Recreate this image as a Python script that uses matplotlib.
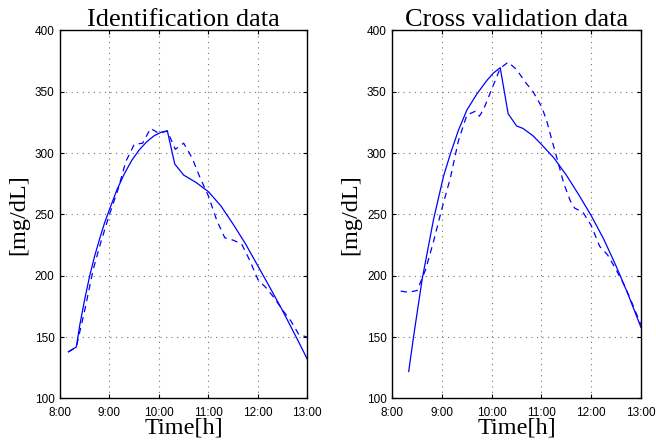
import numpy as np
import matplotlib.pyplot as plt

# datos (hora decimal, mg/dL)
xticks_h = [8, 9, 10, 11, 12, 13]
xtick_labels = ['8:00', '9:00', '10:00', '11:00', '12:00', '13:00']
yticks = [100, 150, 200, 250, 300, 350, 400]

# identificacion
id_t_model = [8.17, 8.33, 8.40, 8.50, 8.60, 8.70, 8.80, 8.90, 9.00, 9.15, 9.30, 9.45,
              9.60, 9.75, 9.90, 10.05, 10.17, 10.32, 10.50, 10.75, 11.0, 11.25,
              11.5, 11.75, 12.0, 12.25, 12.5, 12.75, 13.0]
id_model = [138, 142, 160, 181, 200, 216, 230, 243, 254, 270, 283, 294,
            302.5, 309, 314, 317, 318, 291, 282, 276, 268.5, 257,
            242, 226, 208, 190, 171.5, 152, 132]

id_t_meas = [8.17, 8.33, 8.5, 8.67, 8.83, 9.0, 9.17, 9.33, 9.5, 9.67, 9.83, 10.0,
             10.17, 10.33, 10.5, 10.67, 10.83, 11.0, 11.17, 11.33, 11.5, 11.67,
             11.83, 12.0, 12.17, 12.33, 12.5, 12.67, 12.83, 13.0]
id_meas = [138, 142, 172, 205, 228, 250, 270, 293, 307, 308, 320, 316,
           318, 303, 308, 296, 280, 265, 245, 231, 229, 226,
           213, 197, 190, 182, 172, 163, 152, 150]

# validacion cruzada
cv_t_model = [8.33, 8.43, 8.60, 8.83, 9.03, 9.17, 9.33, 9.50, 9.70, 9.90, 10.03, 10.17,
              10.33, 10.50, 10.63, 10.83, 11.0, 11.25, 11.5, 11.75, 12.0, 12.25,
              12.5, 12.75, 13.0]
cv_model = [122, 151, 197, 246, 281, 299.5, 318.5, 335, 348, 359, 365, 369.5,
            332, 322, 320, 314, 307, 296, 282, 266, 249, 230,
            208, 184, 158]

cv_t_meas = [8.17, 8.33, 8.5, 8.67, 8.83, 9.0, 9.17, 9.33, 9.5, 9.67, 9.75, 9.83,
             10.0, 10.17, 10.33, 10.5, 10.67, 10.83, 11.0, 11.1, 11.2, 11.33,
             11.45, 11.58, 11.67, 11.83, 12.0, 12.17, 12.33, 12.5, 12.67, 12.83, 13.0]
cv_meas = [187.5, 186.5, 188, 205, 228, 255, 280, 310, 331, 334, 330, 335,
           352, 369, 374, 368, 358, 350, 338, 327, 312, 293,
           275, 261, 255, 252, 241, 224, 217, 205, 192, 177, 160]

serif = ['Liberation Serif', 'DejaVu Serif']
sans = ['Liberation Sans', 'DejaVu Sans']

fig = plt.figure(figsize=(6.56, 4.45), dpi=100)
ax1 = fig.add_axes([0.0915, 0.1045, 0.377, 0.8275])
ax2 = fig.add_axes([0.598, 0.1045, 0.379, 0.8275])

for ax, tm, ym, tc, yc, titulo in [
        (ax1, id_t_model, id_model, id_t_meas, id_meas, 'Identification data'),
        (ax2, cv_t_model, cv_model, cv_t_meas, cv_meas, 'Cross validation data')]:
    ax.plot(tm, ym, color='#0000ff', lw=0.9)
    ax.plot(tc, yc, color='#0000ff', lw=0.9, ls=(0, (5, 4)))
    ax.set_xlim(8, 13)
    ax.set_ylim(100, 400)
    ax.set_xticks(xticks_h)
    ax.set_xticklabels(xtick_labels, family=sans, fontsize=8.5)
    ax.set_yticks(yticks)
    ax.set_yticklabels([str(v) for v in yticks], family=sans, fontsize=8.5)
    ax.tick_params(direction='in', length=3, width=0.8, top=True, right=True, pad=4)
    ax.tick_params(axis='x', pad=6)
    ax.grid(True, ls=(0, (1, 4)), color='0.45', lw=0.8)
    for s in ax.spines.values():
        s.set_linewidth(1.0)
    ax.set_title(titulo, family=serif, fontsize=19, pad=3)
    ax.set_xlabel('Time[h]', family=serif, fontsize=17.5, labelpad=-1)
    ax.set_ylabel('[mg/dL]', family=serif, fontsize=17.5, labelpad=4)

fig.savefig('out.png', dpi=100)
